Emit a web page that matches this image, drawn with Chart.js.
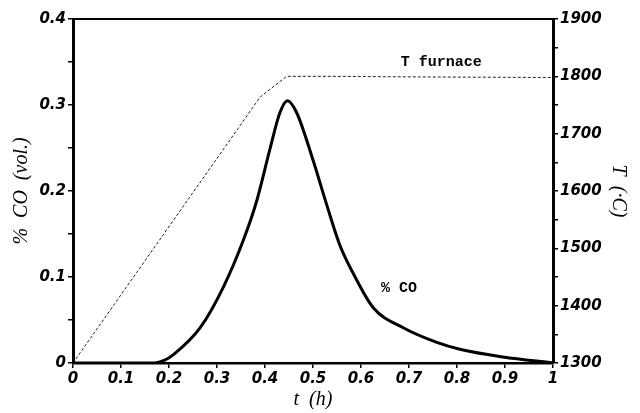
<!DOCTYPE html>
<html>
<head>
<meta charset="utf-8">
<script src="https://cdn.jsdelivr.net/npm/chart.js@4.4.1/dist/chart.umd.min.js"></script>
<style>
html,body{margin:0;padding:0;background:#fff;}
#wrap{width:640px;height:413px;position:relative;}
</style>
</head>
<body>
<div id="wrap"><canvas id="c" width="640" height="413"></canvas></div>
<script>
// Data
const coTime = [0, 0.17, 0.19, 0.21, 0.265, 0.313, 0.355, 0.383, 0.41, 0.431, 0.447, 0.466, 0.5, 0.528, 0.556, 0.584, 0.626, 0.688, 0.758, 0.806, 0.896, 1.0];
const coValue = [0, 0, 0.003, 0.010, 0.041, 0.088, 0.143, 0.189, 0.248, 0.291, 0.305, 0.291, 0.236, 0.185, 0.137, 0.104, 0.064, 0.041, 0.024, 0.016, 0.007, 0];
const furnaceTime = [0, 0.39, 0.445, 0.55, 0.7, 1.0];
const furnaceTemp = [1300, 1764, 1800, 1800, 1799, 1798];
const xTicks = [0, 0.1, 0.2, 0.3, 0.4, 0.5, 0.6, 0.7, 0.8, 0.9, 1];
const annotations = [
  {text: 'T furnace', x: 0.767, y: 1824, axis: 'yR'},
  {text: '% CO', x: 0.679, y: 0.087, axis: 'yL'}
];

const tickFont = {family: '"DejaVu Sans", sans-serif', size: 15, weight: 'bold', style: 'italic'};
const titleFont = {family: '"Liberation Serif", serif', size: 20, style: 'italic'};

const annotationPlugin = {
  id: 'annot',
  afterDatasetsDraw(chart) {
    const ctx = chart.ctx;
    ctx.save();
    ctx.fillStyle = '#000';
    ctx.font = 'bold 15px "Liberation Mono", monospace';
    ctx.textAlign = 'center';
    ctx.textBaseline = 'middle';
    annotations.forEach(a => {
      const px = chart.scales.x.getPixelForValue(a.x);
      const py = chart.scales[a.axis].getPixelForValue(a.y);
      ctx.fillText(a.text, px, py);
    });
    ctx.restore();
  }
};

new Chart(document.getElementById('c'), {
  type: 'line',
  data: {
    datasets: [
      {
        label: '% CO',
        data: coTime.map((t, i) => ({x: t, y: coValue[i]})),
        yAxisID: 'yL',
        borderColor: '#000',
        borderWidth: 3,
        pointRadius: 0,
        cubicInterpolationMode: 'monotone',
        fill: false
      },
      {
        label: 'T furnace',
        data: furnaceTime.map((t, i) => ({x: t, y: furnaceTemp[i]})),
        yAxisID: 'yR',
        borderColor: '#222',
        borderWidth: 1,
        borderDash: [3, 2],
        pointRadius: 0,
        tension: 0,
        fill: false
      }
    ]
  },
  options: {
    responsive: false,
    animation: false,
    layout: {padding: {top: 19, left: 0, right: 0, bottom: 0}},
    plugins: {legend: {display: false}, tooltip: {enabled: false}},
    scales: {
      x: {
        type: 'linear', position: 'bottom', min: 0, max: 1,
        afterBuildTicks(s) { s.ticks = xTicks.map(v => ({value: v})); },
        ticks: {
          color: '#000', font: tickFont, padding: 2, maxRotation: 0, autoSkip: false,
          callback: v => String(Math.round(v * 10) / 10)
        },
        grid: {display: true, drawOnChartArea: false, drawTicks: true, tickLength: 5, color: '#000', lineWidth: 1.5},
        border: {display: true, color: '#000', width: 2.5},
        title: {display: true, text: 't  (h)', color: '#000', font: titleFont, padding: {top: 0, bottom: 1}},
        afterFit(s) { s.height = 50; }
      },
      xTop: {
        type: 'linear', position: 'top', min: 0, max: 1,
        ticks: {display: false},
        grid: {display: false, drawTicks: false},
        border: {display: true, color: '#000', width: 2},
        afterFit(s) { s.height = 0; }
      },
      yL: {
        type: 'linear', position: 'left', min: 0, max: 0.4,
        ticks: {
          stepSize: 0.05, color: '#000', font: tickFont, padding: 2,
          callback: v => {
            const k = Math.round(v * 100);
            if (k % 10 !== 0) return '';
            return k === 0 ? '0' : (k / 100).toFixed(1);
          }
        },
        grid: {display: true, drawOnChartArea: false, drawTicks: true, tickLength: 5, color: '#000', lineWidth: 1.5},
        border: {display: true, color: '#000', width: 3},
        title: {display: true, text: '%  CO  (vol.)', color: '#000', font: titleFont, padding: {top: 10, bottom: 0}},
        afterFit(s) { s.width = 73; }
      },
      yR: {
        type: 'linear', position: 'right', min: 1300, max: 1900,
        ticks: {
          stepSize: 50, color: '#000', font: tickFont, padding: 2,
          callback: v => (Math.round(v) % 100 === 0 ? String(Math.round(v)) : '')
        },
        grid: {display: true, drawOnChartArea: false, drawTicks: true, tickLength: 5, color: '#000', lineWidth: 1.5},
        border: {display: true, color: '#000', width: 3},
        title: {display: true, text: 'T  (·C)', color: '#000', font: titleFont, padding: {top: 10, bottom: 0}},
        afterFit(s) { s.width = 87; }
      }
    }
  },
  plugins: [annotationPlugin]
});
</script>
</body>
</html>
